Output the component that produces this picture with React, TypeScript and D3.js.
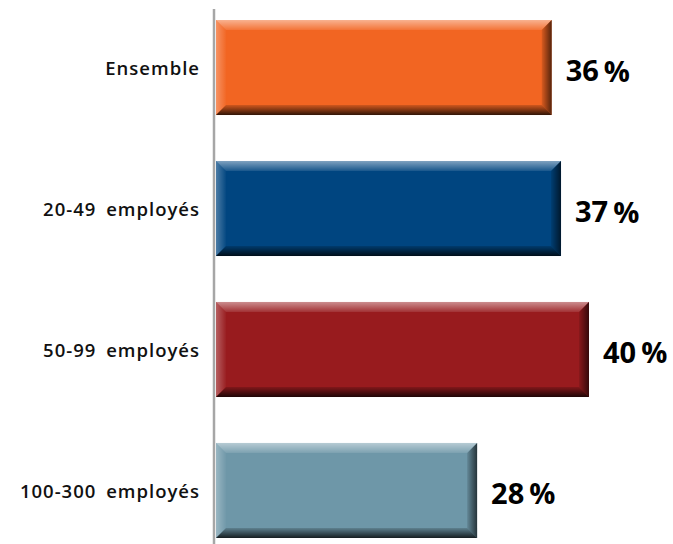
import React from "react";
import * as d3 from "d3";

const categories = ["Ensemble", "20-49 employés", "50-99 employés", "100-300 employés"];
const values = [36, 37, 40, 28];
const colors = ["#f26522", "#004580", "#981b1e", "#6e97a8"];

const W = 673;
const H = 544;

export default function App() {
  const x = d3.scaleLinear().domain([0, 40]).range([216, 589]);
  const y = d3.scaleBand<string>().domain(categories).range([20, 538]).paddingInner(0.326).paddingOuter(0);
  const bw = y.bandwidth();
  const b = 10;
  return (
    <svg width={W} height={H} style={{ position: "absolute", left: 0, top: 0 }}>
      <defs>
        <linearGradient id="gTop" x1="0" y1="0" x2="0" y2="1">
          <stop offset="0" stopColor="#fff" stopOpacity={0.5} />
          <stop offset="1" stopColor="#fff" stopOpacity={0.1} />
        </linearGradient>
        <linearGradient id="gLeft" x1="0" y1="0" x2="1" y2="0">
          <stop offset="0" stopColor="#fff" stopOpacity={0.3} />
          <stop offset="1" stopColor="#fff" stopOpacity={0.02} />
        </linearGradient>
        <linearGradient id="gBot" x1="0" y1="0" x2="0" y2="1">
          <stop offset="0" stopColor="#000" stopOpacity={0.15} />
          <stop offset="1" stopColor="#000" stopOpacity={0.8} />
        </linearGradient>
        <linearGradient id="gRight" x1="0" y1="0" x2="1" y2="0">
          <stop offset="0" stopColor="#000" stopOpacity={0.1} />
          <stop offset="1" stopColor="#000" stopOpacity={0.65} />
        </linearGradient>
      </defs>
      {categories.map((c, i) => {
        const x0 = x(0);
        const x1 = x(values[i]);
        const y0 = y(c)!;
        const y1 = y0 + bw;
        return (
          <g key={c}>
            <rect x={x0} y={y0} width={x1 - x0} height={bw} fill={colors[i]} />
            <polygon points={`${x0},${y0} ${x1},${y0} ${x1 - b},${y0 + b} ${x0 + b},${y0 + b}`} fill="url(#gTop)" />
            <polygon points={`${x0},${y0} ${x0 + b},${y0 + b} ${x0 + b},${y1 - b} ${x0},${y1}`} fill="url(#gLeft)" />
            <polygon points={`${x0},${y1} ${x0 + b},${y1 - b} ${x1 - b},${y1 - b} ${x1},${y1}`} fill="url(#gBot)" />
            <polygon points={`${x1},${y0} ${x1},${y1} ${x1 - b},${y1 - b} ${x1 - b},${y0 + b}`} fill="url(#gRight)" />
            <text
              x={200}
              y={y0 + bw / 2}
              textAnchor="end"
              dominantBaseline="central"
              fontFamily="'Open Sans', sans-serif"
              fontWeight={600}
              fontSize={18.5}
              letterSpacing={1}
              wordSpacing={4}
              fill="#111"
            >
              {c}
            </text>
            <text
              x={x1 + 14}
              y={y0 + bw / 2 + 2}
              dominantBaseline="central"
              fontFamily="'Open Sans', sans-serif"
              fontWeight={700}
              fontSize={29}
              fill="#000"
            >
              {values[i]}
              <tspan dx={5}>%</tspan>
            </text>
          </g>
        );
      })}
      <line x1={214} x2={214} y1={9} y2={H} stroke="#a6a6a6" strokeWidth={2.5} />
    </svg>
  );
}
